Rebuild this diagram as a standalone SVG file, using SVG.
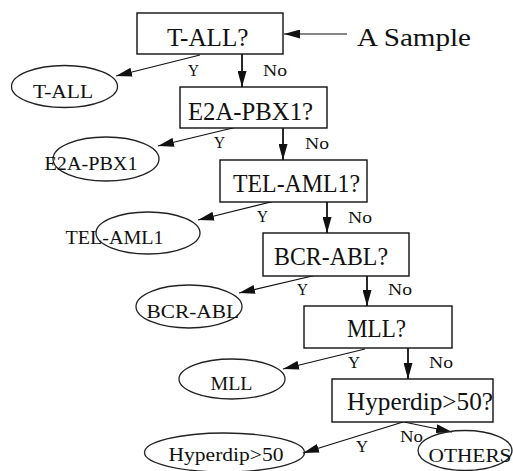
<svg xmlns="http://www.w3.org/2000/svg" width="513" height="471" viewBox="0 0 513 471" font-family="Liberation Serif, DejaVu Serif, serif">
  <style>
    .box { fill: #fff; stroke: #111; stroke-width: 1.4; }
    .leaf { fill: none; stroke: #222; stroke-width: 1.3; }
    .q { font-size: 25px; fill: #111; }
    .lt { font-size: 18px; fill: #111; }
    .el { font-size: 16px; fill: #111; }
    .edge { stroke: #111; stroke-width: 1.2; fill: none; marker-end: url(#head); }
    .down { stroke-width: 1.8; }
  </style>
  <defs>
    <marker id="head" markerUnits="userSpaceOnUse" markerWidth="16" markerHeight="9" refX="16" refY="4.5" orient="auto">
      <path d="M0,0 L16,4.5 L0,9 z" fill="#111"/>
    </marker>
  </defs>

  <!-- connectors -->
  <g id="connectors">
    <line class="edge" x1="347" y1="34" x2="284" y2="34"/>
    <line class="edge" x1="200" y1="55" x2="116" y2="76"/>
    <line class="edge down" x1="242" y1="54" x2="242" y2="87"/>
    <line class="edge" x1="241" y1="126" x2="158" y2="146"/>
    <line class="edge down" x1="283" y1="128" x2="283" y2="160"/>
    <line class="edge" x1="283" y1="199" x2="198" y2="220"/>
    <line class="edge down" x1="327" y1="202" x2="327" y2="233"/>
    <line class="edge" x1="325" y1="273" x2="239" y2="293"/>
    <line class="edge down" x1="367" y1="276" x2="367" y2="306"/>
    <line class="edge" x1="365" y1="349" x2="283" y2="369"/>
    <line class="edge down" x1="408" y1="348" x2="408" y2="379"/>
    <line class="edge" x1="403" y1="422" x2="303" y2="453"/>
    <line class="edge" x1="404" y1="422" x2="452" y2="432"/>

    <text class="el" x="188" y="76" textLength="11" lengthAdjust="spacingAndGlyphs">Y</text>
    <text class="el" x="263" y="76" textLength="24" lengthAdjust="spacingAndGlyphs">No</text>
    <text class="el" x="214" y="148" textLength="11" lengthAdjust="spacingAndGlyphs">Y</text>
    <text class="el" x="305" y="149" textLength="24" lengthAdjust="spacingAndGlyphs">No</text>
    <text class="el" x="257" y="221.5" textLength="11" lengthAdjust="spacingAndGlyphs">Y</text>
    <text class="el" x="348" y="222.5" textLength="24" lengthAdjust="spacingAndGlyphs">No</text>
    <text class="el" x="297" y="295" textLength="11" lengthAdjust="spacingAndGlyphs">Y</text>
    <text class="el" x="388" y="295" textLength="24" lengthAdjust="spacingAndGlyphs">No</text>
    <text class="el" x="348" y="368" textLength="12" lengthAdjust="spacingAndGlyphs">Y</text>
    <text class="el" x="429" y="368" textLength="24" lengthAdjust="spacingAndGlyphs">No</text>
    <text class="el" x="356" y="451.5" textLength="12" lengthAdjust="spacingAndGlyphs">Y</text>
    <text class="el" x="400" y="441.5" textLength="23" lengthAdjust="spacingAndGlyphs">No</text>
  </g>

  <!-- input -->
  <g id="sample">
    <text class="q" x="357" y="45.5" font-size="29" textLength="114" lengthAdjust="spacingAndGlyphs">A Sample</text>
  </g>

  <!-- decision boxes -->
  <g id="q-tall">
    <rect class="box" x="137" y="13" width="146" height="41"/>
    <text class="q" x="167" y="46" textLength="81.5" lengthAdjust="spacingAndGlyphs">T-ALL?</text>
  </g>
  <g id="q-e2a">
    <rect class="box" x="180" y="87" width="147" height="41"/>
    <text class="q" x="188" y="120" textLength="125" lengthAdjust="spacingAndGlyphs">E2A-PBX1?</text>
  </g>
  <g id="q-tel">
    <rect class="box" x="220" y="160" width="147" height="42"/>
    <text class="q" x="233" y="191.5" textLength="127" lengthAdjust="spacingAndGlyphs">TEL-AML1?</text>
  </g>
  <g id="q-bcr">
    <rect class="box" x="263" y="233" width="146" height="43"/>
    <text class="q" x="274" y="265" textLength="114" lengthAdjust="spacingAndGlyphs">BCR-ABL?</text>
  </g>
  <g id="q-mll">
    <rect class="box" x="304" y="306" width="148" height="42"/>
    <text class="q" x="347" y="336.5" textLength="59" lengthAdjust="spacingAndGlyphs">MLL?</text>
  </g>
  <g id="q-hyper">
    <rect class="box" x="332" y="379" width="161" height="43"/>
    <text class="q" x="347" y="410" textLength="146" lengthAdjust="spacingAndGlyphs">Hyperdip&gt;50?</text>
  </g>

  <!-- outcome leaves -->
  <g id="leaf-tall">
    <ellipse class="leaf" cx="64.5" cy="86.5" rx="53" ry="21"/>
    <text class="lt" x="33" y="97.5" textLength="60" lengthAdjust="spacingAndGlyphs">T-ALL</text>
  </g>
  <g id="leaf-e2a">
    <ellipse class="leaf" cx="106" cy="159" rx="53" ry="22"/>
    <text class="lt" x="44.5" y="170" textLength="93" lengthAdjust="spacingAndGlyphs">E2A-PBX1</text>
  </g>
  <g id="leaf-tel">
    <ellipse class="leaf" cx="148" cy="233" rx="52" ry="21"/>
    <text class="lt" x="65.5" y="243.5" textLength="98" lengthAdjust="spacingAndGlyphs">TEL-AML1</text>
  </g>
  <g id="leaf-bcr">
    <ellipse class="leaf" cx="189" cy="306.5" rx="53" ry="21.5"/>
    <text class="lt" x="146.5" y="317.5" textLength="92.5" lengthAdjust="spacingAndGlyphs">BCR-ABL</text>
  </g>
  <g id="leaf-mll">
    <ellipse class="leaf" cx="232" cy="379" rx="53" ry="20"/>
    <text class="lt" x="210.5" y="389.5" textLength="42" lengthAdjust="spacingAndGlyphs">MLL</text>
  </g>
  <g id="leaf-hyper">
    <ellipse class="leaf" cx="224.5" cy="452.5" rx="80" ry="19.5"/>
    <text class="lt" x="168.5" y="460.5" font-size="19" textLength="115" lengthAdjust="spacingAndGlyphs">Hyperdip&gt;50</text>
  </g>
  <g id="leaf-others">
    <ellipse class="leaf" cx="465" cy="450.5" rx="47" ry="20"/>
    <text class="lt" x="428.5" y="461.5" textLength="83" lengthAdjust="spacingAndGlyphs">OTHERS</text>
  </g>
</svg>
